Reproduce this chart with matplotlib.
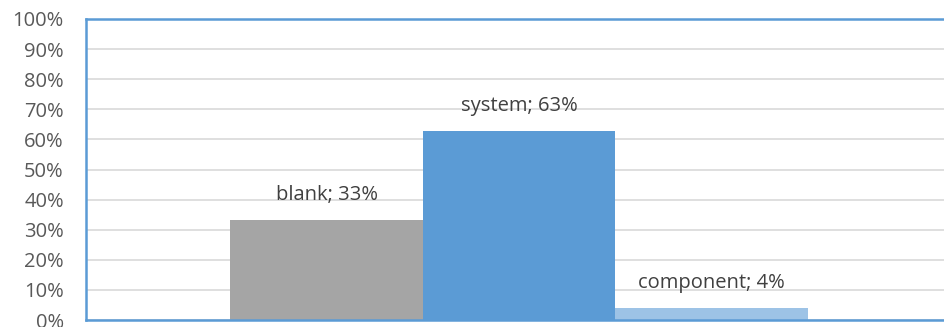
import matplotlib

matplotlib.use("Agg")
import matplotlib.pyplot as plt
from matplotlib.ticker import PercentFormatter

categories = ["blank", "system", "component"]
shares = [0.332, 0.628, 0.04]
share_labels = ["33%", "63%", "4%"]
colors = ["#A5A5A5", "#5B9BD5", "#9DC3E6"]
yticks = [i / 10 for i in range(11)]

plt.rcParams["font.family"] = ["Open Sans", "DejaVu Sans"]

fig = plt.figure(figsize=(9.44, 3.27), dpi=100)
W, H = 944, 327
ax = fig.add_axes([86 / W, 7 / H, (952 - 86) / W, 301 / H])

x = list(range(len(categories)))
ax.bar(x, shares, width=1.0, color=colors, zorder=2)
for xi, cat, v, lab in zip(x, categories, shares, share_labels):
    ax.annotate(f"{cat}; {lab}", (xi, v), xytext=(0, 18), textcoords="offset points",
                ha="center", va="center", fontsize=14.5, color="#404040")

ax.set_xlim(-1.25, 3.25)
ax.set_ylim(0, 1)
ax.set_yticks(yticks)
ax.yaxis.set_major_formatter(PercentFormatter(1.0, decimals=0))
ax.set_xticks([])
ax.tick_params(axis="y", length=0, labelsize=14.5, labelcolor="#595959", pad=16)
ax.grid(axis="y", color="#D9D9D9", lw=1.2, zorder=0)
ax.set_axisbelow(True)
for side in ["left", "top", "bottom"]:
    ax.spines[side].set_color("#5B9BD5")
    ax.spines[side].set_linewidth(1.8)
ax.spines["right"].set_visible(False)

fig.savefig("out.png", dpi=100)
